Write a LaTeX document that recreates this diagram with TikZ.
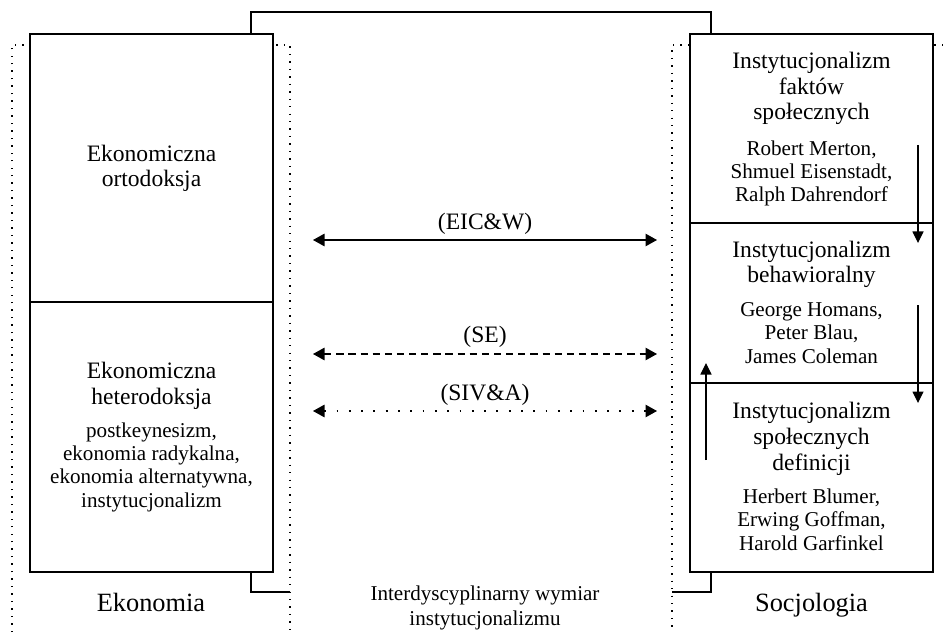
\documentclass[tikz,border=0pt]{standalone}
\usepackage{fontspec}
\setmainfont{Liberation Serif}
\usetikzlibrary{arrows.meta}

\begin{document}
\begin{tikzpicture}[
    box/.style={draw, fill=white, line width=0.7pt, inner sep=0pt, outer sep=0pt, minimum width=4.86cm},
    title/.style={align=center, anchor=base, font=\fontsize{13.4}{14.74}\selectfont},
    names/.style={align=center, anchor=base, font=\fontsize{12}{13.2}\selectfont},
    field/.style={anchor=base, font=\fontsize{15}{18}\selectfont},
    link/.style={line width=0.6pt, {Triangle[length=0.23cm,width=0.25cm]}-{Triangle[length=0.23cm,width=0.25cm]}},
    flow/.style={line width=0.6pt, -{Triangle[length=0.23cm,width=0.22cm]}},
    dots/.style={line width=0.8pt, dash pattern=on 0.8pt off 3.45pt}
]
    \useasboundingbox (0,0) rectangle (18.86,12.64);

    % dotted frames of both disciplines
    \draw[dots] (0.24,0) -- (0.24,11.74) -- (5.8,11.74) -- (5.8,0);
    \draw[dots] (18.86,11.74) -- (13.44,11.74) -- (13.44,0);

    % boxes
    \node[box, minimum height=5.36cm] (orto) at (3.03,9.28) {};
    \node[box, minimum height=5.4cm] (hetero) at (3.03,3.9) {};
    \node[box, minimum height=3.78cm] (fakty) at (16.23,10.07) {};
    \node[box, minimum height=3.2cm] (behaw) at (16.23,6.58) {};
    \node[box, minimum height=3.78cm] (defin) at (16.23,3.09) {};

    % links between the two fields
    \coordinate (topL) at (5.02,11.96);
    \coordinate (topR) at (14.22,11.96);
    \coordinate (botL) at (5.02,1.2);
    \coordinate (botR) at (14.22,1.2);
    \coordinate (frameL) at (5.8,0.8);
    \coordinate (frameR) at (13.44,0.8);
    \draw[line width=0.6pt] (topL) -- ++(0,0.44) -| (topR);
    \draw[line width=0.6pt] (botL) |- (frameL);
    \draw[line width=0.6pt] (botR) |- (frameR);

    % texts (base = last line)
    \node[title] (ortoT) at (3.03,8.9) {Ekonomiczna\\ortodoksja};
    \node[title] (heteroT) at (3.03,4.56) {Ekonomiczna\\heterodoksja};
    \node[names] (heteroN) at (3.03,2.5) {postkeynesizm,\\ekonomia radykalna,\\ekonomia alternatywna,\\instytucjonalizm};

    \node[title] (faktyT) at (16.23,10.24) {Instytucjonalizm\\faktów\\społecznych};
    \node[names] (faktyN) at (16.23,8.6) {Robert Merton,\\Shmuel Eisenstadt,\\Ralph Dahrendorf};
    \node[title] (behawT) at (16.23,6.98) {Instytucjonalizm\\behawioralny};
    \node[names] (behawN) at (16.23,5.38) {George Homans,\\Peter Blau,\\James Coleman};
    \node[title] (definT) at (16.23,3.24) {Instytucjonalizm\\społecznych\\definicji};
    \node[names] (definN) at (16.23,1.64) {Herbert Blumer,\\Erwing Goffman,\\Harold Garfinkel};

    \node[field] (eko) at (3.02,0.42) {Ekonomia};
    \node[field] (socjo) at (16.23,0.41) {Socjologia};
    \node[names, font=\fontsize{12}{14.2}\selectfont] (inter) at (9.7,0.14) {Interdyscyplinarny wymiar\\instytucjonalizmu};

    % arrows between the fields
    \coordinate (a1) at (6.26,7.84);
    \coordinate (b1) at (13.14,7.84);
    \coordinate (a2) at (6.26,5.56);
    \coordinate (b2) at (13.14,5.56);
    \coordinate (a3) at (6.26,4.42);
    \coordinate (b3) at (13.14,4.42);
    \draw[link] (a1) -- (b1);
    \draw[link, dash pattern=on 4.1pt off 2.8pt] (a2) -- (b2);
    \draw[link, dash pattern=on 1pt off 6pt] (a3) -- (b3);
    \node[title] (eicw) at (9.7,8.04) {(EIC\&W)};
    \node[title] (se) at (9.7,5.78) {(SE)};
    \node[title] (siva) at (9.7,4.64) {(SIV\&A)};

    % arrows inside sociology
    \coordinate (d1s) at (18.36,9.74);
    \coordinate (d1e) at (18.36,7.78);
    \coordinate (d2s) at (18.36,6.54);
    \coordinate (d2e) at (18.36,4.58);
    \coordinate (us) at (14.12,3.44);
    \coordinate (ue) at (14.12,5.38);
    \draw[flow] (d1s) -- (d1e);
    \draw[flow] (d2s) -- (d2e);
    \draw[flow] (us) -- (ue);
\end{tikzpicture}
\end{document}
